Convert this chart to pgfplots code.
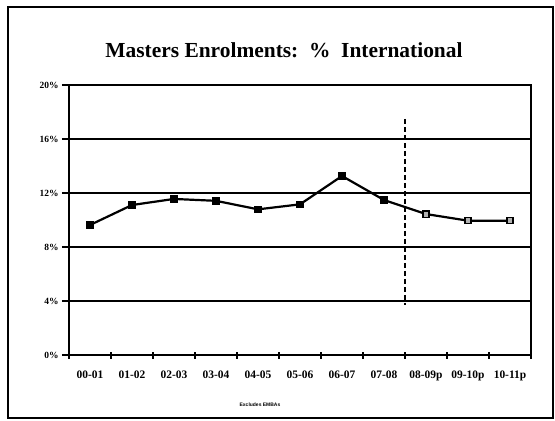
\documentclass[border=0pt]{standalone}
\usepackage{pgfplots}
\pgfplotsset{compat=1.18}
\usepackage{fontspec}
\setmainfont{Liberation Serif}
\newfontfamily\arialfont{Liberation Sans}
\begin{document}
\begin{tikzpicture}[x=1bp,y=1bp]
\useasboundingbox (-69,-65) rectangle (486,355);
\draw[line width=2bp] (-61,-63) rectangle (484,348);
\node[anchor=base, font=\fontsize{21.5}{24}\selectfont\bfseries] at (215,297.3) {Masters Enrolments:\ \ \%\ \ International};
\node[anchor=base, font=\arialfont\fontsize{5}{6}\selectfont\bfseries] at (191,-51) {Excludes EMBAs};
\begin{axis}[
  at={(0,0)}, anchor=south west,
  scale only axis, width=462bp, height=270bp,
  xmin=0, xmax=11, ymin=0, ymax=20,
  axis line style={line width=1.2bp},
  xtick={0,...,11}, xticklabels={},
  extra x ticks={0.5,1.5,...,10.5},
  extra x tick labels={00-01,01-02,02-03,03-04,04-05,05-06,06-07,07-08,08-09p,09-10p,10-11p},
  extra x tick style={major tick length=0pt, grid=none},
  xtick pos=bottom, xtick align=center,
  major tick length=7bp,
  every tick/.style={black, line width=1.2bp},
  ytick={0,4,...,20}, yticklabels={0\%,4\%,8\%,12\%,16\%,20\%},
  ytick pos=left, ytick align=outside,
  ymajorgrids, grid style={black, line width=1.1bp},
  xticklabel style={font=\fontsize{11.5}{13}\selectfont\bfseries, yshift=-12bp},
  yticklabel style={font=\fontsize{9.5}{10}\selectfont\bfseries},
  clip=false,
]
\addplot[black, line width=1.3bp, dashed, dash pattern=on 5bp off 3bp] coordinates {(8,17.5) (8,3.7)};
\addplot[black, line width=2.2bp, mark=square*, mark size=3.3bp, mark options={solid, fill=black, line width=1bp}]
 coordinates {(0.5,9.63) (1.5,11.11) (2.5,11.56) (3.5,11.42) (4.5,10.79) (5.5,11.16) (6.5,13.26) (7.5,11.48) (8.5,10.44) (9.5,9.95) (10.5,9.95)};
\addplot[only marks, mark=square*, mark size=3.1bp, mark options={solid, fill=white!70!black, draw=black, line width=1.3bp}]
 coordinates {(8.5,10.44) (9.5,9.95) (10.5,9.95)};
\end{axis}
\end{tikzpicture}
\end{document}
